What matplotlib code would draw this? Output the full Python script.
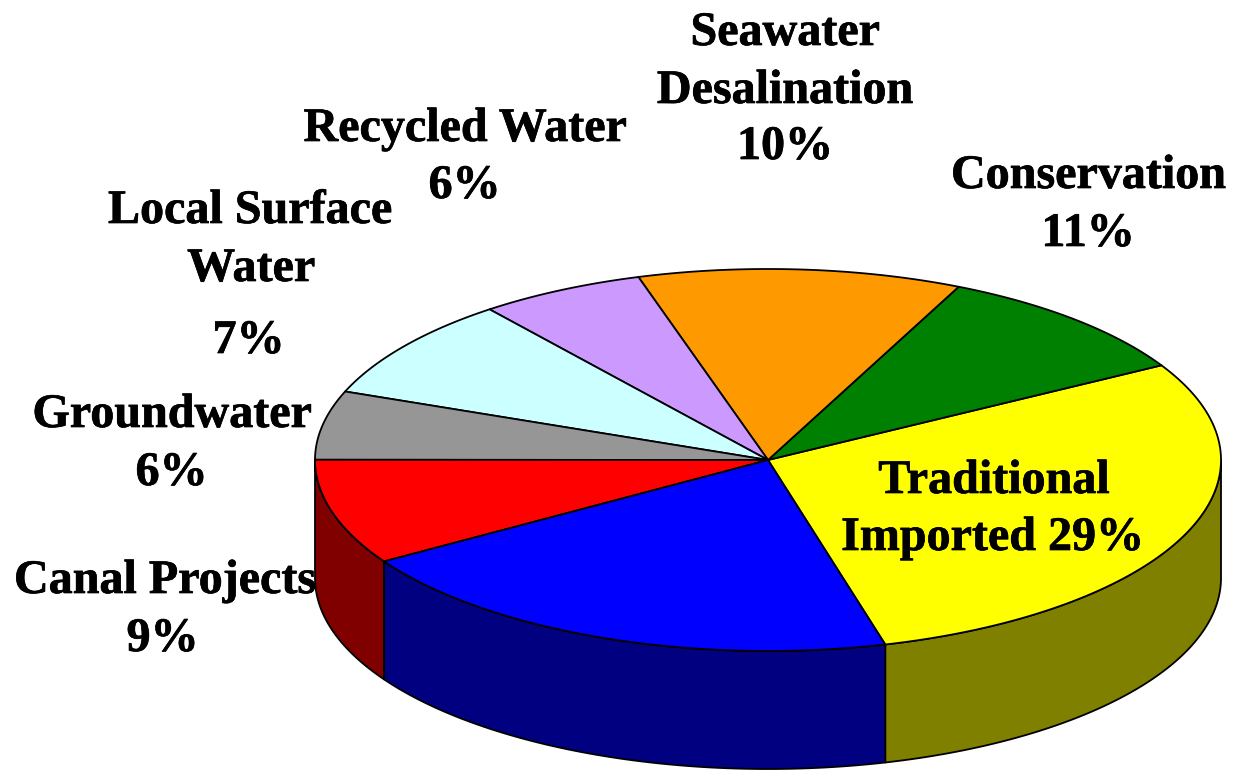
import matplotlib
matplotlib.use('Agg')
import matplotlib.pyplot as plt
import matplotlib.patheffects as pe
import numpy as np

# slices counter clockwise from the yellow/blue boundary, shares
slice_names = ['Traditional Imported', 'Conservation', 'Seawater Desalination', 'Recycled Water',
               'Local Surface Water', 'Groundwater', 'Canal Projects', 'Other']
slice_shares = [29.0, 9.8, 11.5, 5.9, 8.6, 5.8, 8.9, 20.2]
top_colors = ['#ffff00', '#008000', '#ff9900', '#cc99ff', '#ccffff', '#969696', '#ff0000', '#0000ff']
side_colors = ['#808000', '#004000', '#804d00', '#664d80', '#668080', '#4b4b4b', '#800000', '#000080']

# one entry per text line
label_lines = ['Seawater', 'Desalination', '10%', 'Recycled Water', '6%', 'Local Surface', 'Water', '7%',
               'Groundwater', '6%', 'Canal Projects', '9%', 'Conservation', '11%', 'Traditional', 'Imported 29%']
label_x = [785, 785, 785, 465, 464.5, 250, 251, 248.5, 172, 171.5, 165, 162.5, 1088.5, 1088, 994, 992.5]
label_y = [45, 103, 159, 141, 198, 223, 281, 353, 427, 485, 593, 651, 188, 246, 493, 550]

cx, cy = 768, 460
rx, ry = 453, 191
depth = 118
start = -75

plt.rcParams['font.family'] = ['Liberation Serif', 'DejaVu Serif']

fig = plt.figure(figsize=(12.41, 7.7), dpi=100)
ax = fig.add_axes([0, 0, 1, 1])
ax.set_xlim(0, 1241)
ax.set_ylim(770, 0)
ax.axis('off')


def rim(a0, a1, n=200):
    t = np.radians(np.linspace(a0, a1, n))
    return cx + rx * np.cos(t), cy - ry * np.sin(t)


edges = start + np.cumsum([0] + slice_shares) * 360 / sum(slice_shares)

# outer wall, only the front half shows
for i in range(len(slice_shares)):
    for lo, hi in [(180, 360), (-180, 0)]:
        a0 = max(edges[i], lo)
        a1 = min(edges[i + 1], hi)
        if a1 <= a0:
            continue
        x, y = rim(a0, a1)
        ax.fill(np.r_[x, x[::-1]], np.r_[y, y[::-1] + depth], facecolor=side_colors[i],
                edgecolor='black', linewidth=1.3, joinstyle='round')

# top face
for i in range(len(slice_shares)):
    x, y = rim(edges[i], edges[i + 1])
    ax.fill(np.r_[cx, x], np.r_[cy, y], facecolor=top_colors[i], edgecolor='black', linewidth=1.3,
            joinstyle='round')

for s, x, y in zip(label_lines, label_x, label_y):
    ax.text(x, y, s, ha='center', va='baseline', fontsize=34.6, fontweight='bold', color='black',
            path_effects=[pe.withStroke(linewidth=0.5, foreground='black')])

fig.savefig('out.png', dpi=100)
